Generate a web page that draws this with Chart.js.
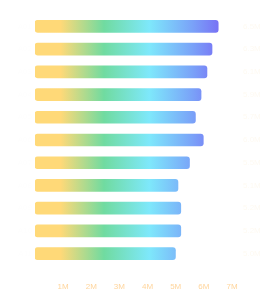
<!DOCTYPE html>
<html>
<head>
<meta charset="utf-8">
<script src="https://cdn.jsdelivr.net/npm/chart.js@4.4.0/dist/chart.umd.min.js"></script>
<style>
  body { margin: 0; background: #fff; }
  #wrap { width: 280px; height: 300px; }
</style>
</head>
<body>
<div id="wrap"><canvas id="mycanvas"></canvas></div>
<script>
var categorias = ["A01", "A02", "A03", "A04", "A05", "A06", "A07", "A08", "A09", "A10", "A11"];
var valores = [6.51, 6.29, 6.11, 5.90, 5.70, 5.98, 5.49, 5.08, 5.18, 5.18, 4.99];
var ticksX = [1, 2, 3, 4, 5, 6, 7];

function gradiente(context) {
	var chart = context.chart;
	var area = chart.chartArea;
	if (!area) return "#ffd978";
	var g = chart.ctx.createLinearGradient(area.left, 0, area.right, 0);
	g.addColorStop(0, "#ffd978");
	g.addColorStop(0.13, "#ffd978");
	g.addColorStop(0.35, "#70dba0");
	g.addColorStop(0.58, "#7ee8fb");
	g.addColorStop(0.8, "#7aa2f8");
	g.addColorStop(0.93, "#7873f5");
	g.addColorStop(1, "#7873f5");
	return g;
}

// faint value labels on the right
var rotulos = {
	id: "rotulos",
	afterDatasetsDraw: function(chart) {
		var ctx = chart.ctx;
		var meta = chart.getDatasetMeta(0);
		ctx.save();
		ctx.font = "8px 'Liberation Sans', Arial, sans-serif";
		ctx.fillStyle = "#fefaf2";
		ctx.textBaseline = "middle";
		ctx.textAlign = "left";
		meta.data.forEach(function(bar, i) {
			ctx.fillText(valores[i].toFixed(1) + "M", 243, bar.y);
		});
		ctx.restore();
	}
};

var chartdata = {
	labels: categorias,
	datasets: [{
		data: valores,
		backgroundColor: gradiente,
		borderRadius: 3,
		borderSkipped: false,
		barThickness: 12
	}]
};

var options = {
	indexAxis: "y",
	responsive: true,
	maintainAspectRatio: false,
	animation: false,
	layout: { padding: { top: 15, bottom: 0, left: 5, right: 48 } },
	plugins: {
		legend: { display: false },
		tooltip: { enabled: false }
	},
	scales: {
		x: {
			min: 0,
			max: 7,
			border: { display: false },
			grid: { display: false, drawTicks: false },
			afterFit: function(scale) { scale.height = 35; },
			afterBuildTicks: function(scale) {
				scale.ticks = ticksX.map(function(v) { return { value: v }; });
			},
			ticks: {
				padding: 17,
				color: "#ffd59c",
				font: { size: 8, family: "'Liberation Sans', Arial, sans-serif" },
				callback: function(v) { return v + "M"; }
			}
		},
		y: {
			border: { display: false },
			grid: { display: false, drawTicks: false },
			afterFit: function(scale) { scale.width = 30; },
			ticks: {
				color: "#fefefe",
				font: { size: 8 }
			}
		}
	}
};

var ctx = document.getElementById("mycanvas");
var barGraph = new Chart(ctx, {
	type: "bar",
	data: chartdata,
	options: options,
	plugins: [rotulos]
});
</script>
</body>
</html>
